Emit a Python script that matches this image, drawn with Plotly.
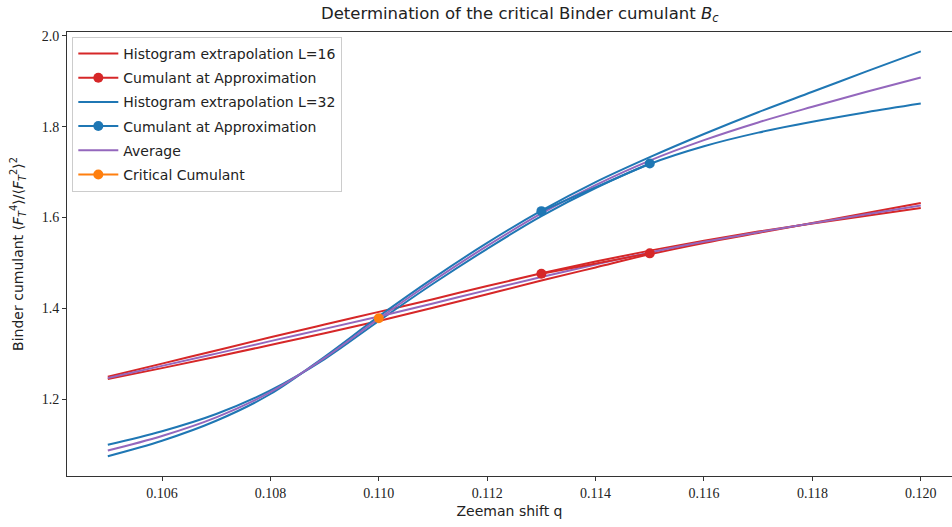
import plotly.graph_objects as go

# Zeeman shift grid
q = [0.105, 0.106, 0.107, 0.108, 0.109, 0.110, 0.111, 0.112,
     0.113, 0.114, 0.115, 0.116, 0.117, 0.118, 0.119, 0.120]

# L=16 histogram extrapolations (from two reference points)
l16_ref113 = [1.249, 1.278, 1.307, 1.336, 1.364, 1.392, 1.420, 1.449,
              1.477, 1.503, 1.527, 1.549, 1.569, 1.587, 1.604, 1.621]
l16_ref115 = [1.244, 1.268, 1.293, 1.319, 1.345, 1.372, 1.401, 1.431,
              1.461, 1.490, 1.519, 1.544, 1.566, 1.588, 1.610, 1.632]

# L=32 histogram extrapolations
l32_ref113 = [1.074, 1.108, 1.152, 1.211, 1.293, 1.382, 1.466, 1.544,
              1.615, 1.678, 1.733, 1.784, 1.832, 1.877, 1.922, 1.966]
l32_ref115 = [1.099, 1.129, 1.167, 1.219, 1.288, 1.372, 1.454, 1.531,
              1.603, 1.665, 1.718, 1.757, 1.787, 1.811, 1.832, 1.851]

# Cumulants at the approximation points
q_approx = [0.113, 0.115]
cum_l16 = [1.476, 1.521]
cum_l32 = [1.614, 1.719]

# Critical cumulant
q_crit = [0.110]
b_crit = [1.378]

avg_l16 = [(a + b) / 2 for a, b in zip(l16_ref113, l16_ref115)]
avg_l32 = [(a + b) / 2 for a, b in zip(l32_ref113, l32_ref115)]

RED = "#d62728"
BLUE = "#1f77b4"
PURPLE = "#9467bd"
ORANGE = "#ff7f0e"
LW = 2

fig = go.Figure()

def curve(y, color, name, show, group, rank):
    fig.add_trace(go.Scatter(x=q, y=y, mode="lines", name=name, showlegend=show,
                             legendgroup=group, legendrank=rank,
                             line=dict(color=color, width=LW, shape="spline")))

def dots(x, y, color, name, group, rank):
    fig.add_trace(go.Scatter(x=x, y=y, mode="lines+markers", name=name,
                             legendgroup=group, legendrank=rank,
                             line=dict(color=color, width=LW),
                             marker=dict(color=color, size=10)))

curve(l16_ref113, RED, "Histogram extrapolation L=16", True, "g1", 1)
curve(l16_ref115, RED, "Histogram extrapolation L=16", False, "g1", 1)
curve(l32_ref113, BLUE, "Histogram extrapolation L=32", True, "g3", 3)
curve(l32_ref115, BLUE, "Histogram extrapolation L=32", False, "g3", 3)
curve(avg_l16, PURPLE, "Average", True, "g5", 5)
curve(avg_l32, PURPLE, "Average", False, "g5", 5)
dots(q_approx, cum_l16, RED, "Cumulant at Approximation", "g2", 2)
dots(q_approx, cum_l32, BLUE, "Cumulant at Approximation", "g4", 4)
dots(q_crit, b_crit, ORANGE, "Critical Cumulant", "g6", 6)

tickfont = dict(family="Liberation Serif", size=14, color="#222")
SANS = "DejaVu Sans"

fig.update_layout(
    width=952, height=527,
    margin=dict(l=67, r=0, t=32, b=51),
    paper_bgcolor="white", plot_bgcolor="white",
    title=dict(text="Determination of the critical Binder cumulant <i>B</i><sub><i>c</i></sub>",
               x=0.546, xanchor="center", xref="container",
               y=1 - 13 / 527, yanchor="middle", yref="container",
               font=dict(family=SANS, size=16.5, color="#222")),
    legend=dict(x=0.006, y=0.989, xanchor="left", yanchor="top",
                bordercolor="#cccccc", borderwidth=1, bgcolor="rgba(255,255,255,0.8)",
                font=dict(family=SANS, size=14, color="#222"),
                traceorder="grouped", tracegroupgap=3, itemwidth=40),
    xaxis=dict(range=[0.104247, 0.120576], tickvals=[0.106, 0.108, 0.110, 0.112, 0.114, 0.116, 0.118, 0.120],
               tickformat=".3f", ticks="outside", ticklen=4, tickcolor="#333",
               showline=True, linecolor="#333", linewidth=1, mirror=True,
               showgrid=False, zeroline=False, tickfont=tickfont,
               title=dict(text="Zeeman shift q", standoff=6,
                          font=dict(family=SANS, size=14, color="#222"))),
    yaxis=dict(range=[1.0303, 2.0088], tickvals=[1.2, 1.4, 1.6, 1.8, 2.0],
               tickformat=".1f", ticks="outside", ticklen=4, tickcolor="#333",
               showline=True, linecolor="#333", linewidth=1, mirror=False,
               showgrid=False, zeroline=False, tickfont=tickfont,
               title=dict(text="Binder cumulant ⟨<i>F</i><sub><i>T</i></sub><sup>4</sup>⟩/⟨<i>F</i><sub><i>T</i></sub><sup>2</sup>⟩<sup>2</sup>",
                          standoff=14, font=dict(family=SANS, size=14, color="#222"))),
)

fig.write_html("out.html")
